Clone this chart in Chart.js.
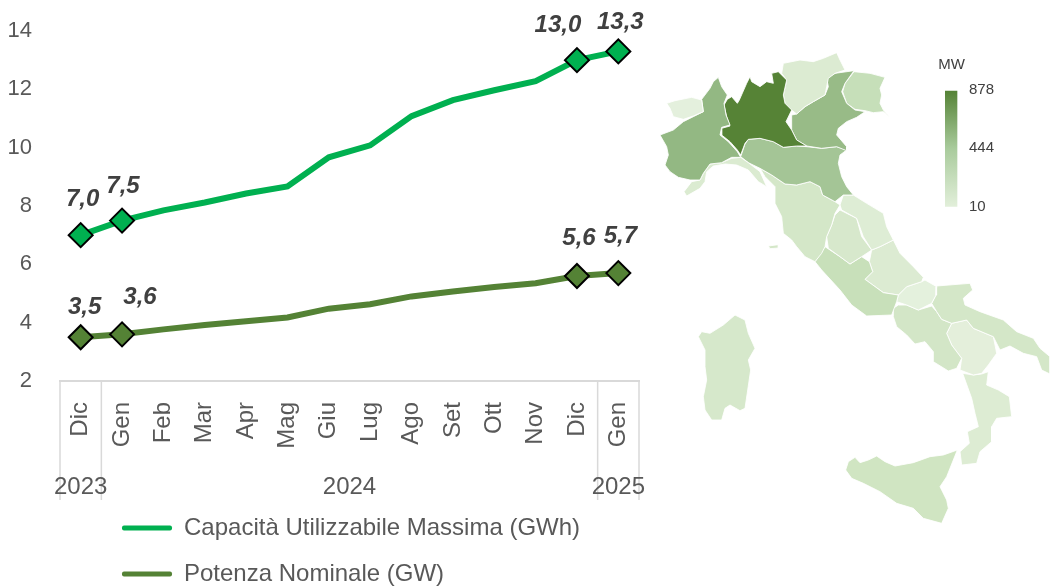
<!DOCTYPE html>
<html><head><meta charset="utf-8">
<style>
html,body{margin:0;padding:0;background:#fff;width:1050px;height:587px;overflow:hidden}
#lineWrap{position:absolute;left:0;top:0;width:670px;height:587px}
#mapWrap{position:absolute;left:650px;top:40px;width:400px;height:547px}
</style>
<script src="https://cdn.jsdelivr.net/npm/chart.js@4/dist/chart.umd.min.js"></script>
</head><body>
<div id="lineWrap"><canvas id="line" width="670" height="587"></canvas></div>
<div id="mapWrap"><canvas id="map" width="400" height="547"></canvas></div>
<script>
// ---------- line chart data ----------
const months = ['Dic','Gen','Feb','Mar','Apr','Mag','Giu','Lug','Ago','Set','Ott','Nov','Dic','Gen'];
const yearLabels = ['2023','2024','2025'];
const yearFirstIndex = [0,1,13];
const yearLastIndex = [0,12,13];
const capacita = [7.0,7.5,7.85,8.12,8.43,8.67,9.67,10.08,11.08,11.63,11.97,12.28,13.0,13.3];
const potenza = [3.5,3.6,3.77,3.92,4.05,4.18,4.48,4.63,4.9,5.07,5.22,5.35,5.6,5.7];
const markedIndex = [0,1,12,13];
const capacitaName = 'Capacità Utilizzabile Massima (GWh)';
const potenzaName = 'Potenza Nominale (GW)';

// ---------- map outlines, in map units ----------
const valleDAosta = [[50,190],[75,182],[125,172],[155,180],[160,215],[130,228],[100,238],[70,230],[60,205]];
const piemonte = [[205,112],[215,140],[232,165],[222,190],[228,225],[240,255],[215,262],[210,285],[235,305],[262,335],[272,352],[245,352],[215,368],[180,372],[160,400],[150,420],[120,420],[85,412],[60,395],[45,375],[55,345],[50,320],[30,285],[70,270],[100,245],[130,230],[160,215],[155,178],[180,145],[190,125]];
const lombardia = [[300,110],[290,130],[268,180],[262,190],[245,170],[232,178],[222,195],[230,230],[240,258],[215,265],[215,285],[240,305],[262,330],[272,345],[285,310],[295,298],[330,295],[370,305],[400,322],[440,318],[470,318],[440,300],[425,270],[408,245],[425,210],[405,190],[400,165],[410,120],[385,95],[365,100],[370,130],[350,125],[330,140],[305,125]];
const trentino = [[400,70],[450,60],[490,65],[520,55],[560,38],[570,60],[585,90],[555,100],[535,115],[530,140],[525,165],[490,185],[465,200],[440,222],[425,210],[405,190],[400,165],[410,120],[395,100]];
const veneto = [[555,100],[612,92],[585,130],[575,155],[590,190],[615,210],[645,215],[620,232],[590,245],[565,265],[560,285],[590,320],[590,332],[560,320],[515,325],[470,318],[440,300],[425,270],[425,225],[440,222],[465,200],[490,185],[525,165],[535,140],[530,115]];
const friuli = [[612,95],[660,100],[705,112],[690,145],[695,165],[690,190],[700,210],[720,232],[700,215],[670,218],[645,212],[615,208],[590,190],[578,155],[585,130]];
const emilia = [[295,298],[285,312],[272,350],[295,368],[330,385],[365,405],[405,432],[440,435],[480,425],[510,440],[518,465],[555,485],[580,465],[610,465],[590,440],[575,410],[565,370],[570,345],[590,330],[560,320],[515,325],[470,320],[440,318],[400,322],[370,305],[330,295]];
const liguria = [[245,355],[272,352],[295,368],[330,395],[350,440],[325,425],[295,390],[260,375],[225,372],[190,378],[170,395],[165,425],[150,445],[110,468],[102,455],[125,425],[150,420],[160,400],[180,372],[215,368]];
const toscana = [[330,385],[365,405],[405,432],[440,435],[480,425],[510,440],[518,465],[555,485],[570,495],[555,520],[545,555],[530,590],[525,620],[515,640],[495,665],[465,650],[440,620],[425,600],[400,580],[395,530],[375,490],[375,440],[345,410]];
const elba = [[355,618],[385,614],[385,624],[360,626]];
const marche = [[580,465],[610,465],[650,490],[700,520],[710,560],[730,600],[690,620],[665,630],[640,590],[620,535],[575,510],[570,495]];
const umbria = [[570,510],[620,535],[635,590],[665,630],[635,650],[600,672],[570,650],[535,625],[530,590],[545,555],[555,525]];
const lazio = [[525,620],[570,650],[600,672],[635,650],[658,665],[668,695],[645,718],[700,758],[745,765],[740,785],[725,825],[650,828],[605,795],[570,750],[515,690],[495,665]];
const abruzzo = [[665,630],[690,620],[730,600],[750,640],[790,680],[820,712],[815,725],[770,740],[745,765],[700,758],[645,718],[668,695],[658,665]];
const molise = [[770,740],[815,725],[825,720],[860,740],[858,765],[845,790],[805,810],[770,795],[740,785],[745,765]];
const puglia = [[860,738],[960,730],[968,750],[940,775],[945,795],[990,815],[1060,840],[1100,875],[1150,895],[1170,925],[1200,950],[1200,1002],[1175,990],[1160,950],[1120,940],[1080,918],[1050,930],[1030,890],[970,865],[950,840],[905,850],[875,838],[860,815],[845,790],[858,765]];
const campania = [[730,805],[745,795],[770,795],[805,810],[845,798],[860,815],[875,838],[905,850],[890,880],[905,915],[935,955],[920,985],[895,993],[850,965],[850,935],[825,905],[795,912],[770,885],[740,860],[730,830]];
const basilicata = [[905,850],[950,840],[970,865],[1030,890],[1040,940],[1015,975],[995,1000],[970,1005],[930,990],[935,955],[905,915],[890,880]];
const calabria = [[938,1000],[970,1005],[995,1002],[1015,995],[1010,1035],[1045,1050],[1078,1070],[1085,1130],[1040,1135],[1025,1160],[1025,1205],[990,1235],[980,1270],[935,1275],[930,1235],[958,1210],[952,1175],[985,1160],[975,1120],[965,1075]];
const sicilia = [[922,1230],[890,1310],[870,1340],[890,1380],[895,1405],[875,1450],[820,1435],[790,1405],[740,1390],[690,1355],[640,1330],[605,1315],[587,1290],[595,1265],[615,1252],[630,1268],[655,1260],[680,1248],[705,1265],[735,1278],[790,1268],[840,1250],[880,1245]];
const sardegna = [[255,825],[285,840],[295,880],[315,925],[295,960],[302,990],[285,1105],[270,1112],[240,1095],[225,1105],[215,1140],[185,1140],[165,1110],[160,1070],[170,1020],[165,980],[165,930],[145,890],[155,875],[180,880],[220,855]];
const regions = [valleDAosta,piemonte,liguria,lombardia,trentino,veneto,friuli,emilia,toscana,elba,marche,umbria,lazio,abruzzo,molise,puglia,campania,basilicata,calabria,sicilia,sardegna];
const regionNames = ["Valle d'Aosta",'Piemonte','Liguria','Lombardia','Trentino-Alto Adige','Veneto','Friuli-Venezia Giulia','Emilia-Romagna','Toscana','Elba','Marche','Umbria','Lazio','Abruzzo','Molise','Puglia','Campania','Basilicata','Calabria','Sicilia','Sardegna'];
const regionColors = ['#E4F0DD','#93B883','#DBEBD1','#568336','#DCEBD2','#98BB87','#C6DFB9','#A4C596','#D4E7C8','#D4E7C8','#DEEDD5','#D7E8CC','#C8E0BA','#DCEBD2','#E4F1DD','#D4E7C8','#D3E6C7','#E4EFDB','#DDECD3','#D0E5C2','#D6E8CB'];
const colorBar = [[885,152],[922,152],[922,500],[885,500]];
const colorBarLabels = ['878','444','10'];
const colorBarLabelY = [150,325,502];
const colorBarStops = ['#548235','#A9CB9C','#E2EFDA'];

// ---------- shared styles ----------
const FONT = '"Liberation Sans", Arial, sans-serif';
const GREY = '#595959';
const GREEN_BRIGHT = '#00B050';
const GREEN_DARK = '#548235';
const labelOffsets = [
  {0:[2,-36],1:[1,-34],12:[-19,-35],13:[2,-29]},
  {0:[4,-30],1:[18,-37],12:[2,-38],13:[2,-37]}
];

const lineExtras = {
  id:'lineExtras',
  afterLayout(chart){
    chart.legend.left = 100;
    chart.legend.top = 494;
  },
  afterDraw(chart){
    const {ctx} = chart;
    const x = chart.scales.x;
    const axisY = chart.scales.y.bottom;
    ctx.save();
    ctx.strokeStyle = '#D9D9D9';
    ctx.lineWidth = 1.5;
    [-0.5,0.5,12.5,13.5].forEach(v=>{
      const px = x.getPixelForValue(v);
      ctx.beginPath();ctx.moveTo(px,axisY);ctx.lineTo(px,500);ctx.stroke();
    });
    ctx.fillStyle = GREY;
    ctx.font = '24px '+FONT;
    ctx.textAlign = 'center';
    ctx.textBaseline = 'middle';
    yearLabels.forEach((t,i)=>{
      const px = (x.getPixelForValue(yearFirstIndex[i])+x.getPixelForValue(yearLastIndex[i]))/2;
      ctx.fillText(t,px,487);
    });
    ctx.fillStyle = '#404040';
    ctx.font = 'italic bold 24px '+FONT;
    chart.data.datasets.forEach((ds,d)=>{
      const meta = chart.getDatasetMeta(d);
      markedIndex.forEach(i=>{
        const p = meta.data[i];
        const off = labelOffsets[d][i];
        ctx.fillText(ds.data[i].toFixed(1).replace('.',','),p.x+off[0],p.y+off[1]);
      });
    });
    ctx.restore();
  }
};

const pointSize = c => markedIndex.includes(c.dataIndex) ? 12 : 0;
new Chart(document.getElementById('line'),{
  type:'line',
  data:{labels:months,datasets:[
    {label:capacitaName,data:capacita,borderColor:GREEN_BRIGHT,backgroundColor:GREEN_BRIGHT,borderWidth:6,tension:0,clip:false,
     pointStyle:'rectRot',pointRadius:pointSize,pointBackgroundColor:GREEN_BRIGHT,pointBorderColor:'#000',pointBorderWidth:2},
    {label:potenzaName,data:potenza,borderColor:GREEN_DARK,backgroundColor:GREEN_DARK,borderWidth:6,tension:0,clip:false,
     pointStyle:'rectRot',pointRadius:pointSize,pointBackgroundColor:GREEN_DARK,pointBorderColor:'#000',pointBorderWidth:2}
  ]},
  options:{
    responsive:false,animation:false,events:[],
    layout:{padding:{top:31,right:31,left:0,bottom:0}},
    plugins:{
      tooltip:{enabled:false},
      legend:{display:true,position:'bottom',align:'start',
        labels:{boxWidth:50,boxHeight:5,padding:22,color:GREY,font:{family:FONT,size:24},useBorderRadius:true,borderRadius:2,
          generateLabels(chart){
            return Chart.defaults.plugins.legend.labels.generateLabels(chart).map(it=>Object.assign(it,{lineWidth:0}));
          }}
      }
    },
    scales:{
      x:{type:'category',offset:true,
        grid:{display:false,drawTicks:false},
        border:{display:true,color:'#D9D9D9',width:2},
        ticks:{autoSkip:false,minRotation:90,maxRotation:90,padding:21,color:GREY,font:{family:FONT,size:24}},
        afterFit(s){s.height=104;s.paddingLeft=0;s.paddingRight=0;}
      },
      y:{min:2,max:14,
        grid:{display:false,drawTicks:false},
        border:{display:false},
        ticks:{stepSize:2,padding:28,color:GREY,font:{family:FONT,size:22}},
        afterFit(s){s.width=60;s.paddingTop=0;s.paddingBottom=0;}
      }
    }
  },
  plugins:[lineExtras]
});

// ---------- map ----------
const toPoints = poly => poly.concat([poly[0]]).map(p=>({x:p[0],y:p[1]}));
const barGradient = ctx => {
  const c = ctx.chart, y = c.scales.y;
  const top = y ? y.getPixelForValue(colorBar[0][1]) : NaN;
  const bottom = y ? y.getPixelForValue(colorBar[2][1]) : NaN;
  if(!Number.isFinite(top) || !Number.isFinite(bottom)) return colorBarStops[1];
  const g = c.ctx.createLinearGradient(0,top,0,bottom);
  colorBarStops.forEach((col,i)=>g.addColorStop(i/(colorBarStops.length-1),col));
  return g;
};
const mapExtras = {
  id:'mapExtras',
  afterDraw(chart){
    const {ctx} = chart, x = chart.scales.x, y = chart.scales.y;
    ctx.save();
    ctx.fillStyle = '#404040';
    ctx.font = '15px '+FONT;
    ctx.textBaseline = 'middle';
    ctx.textAlign = 'left';
    ctx.fillText('MW',x.getPixelForValue(865),y.getPixelForValue(74));
    colorBarLabels.forEach((t,i)=>{
      ctx.fillText(t,x.getPixelForValue(957),y.getPixelForValue(colorBarLabelY[i]));
    });
    ctx.restore();
  }
};
const mapSets = regions.map((poly,i)=>({
  label:regionNames[i],data:toPoints(poly),showLine:true,fill:'shape',tension:0,
  backgroundColor:regionColors[i],borderColor:'rgba(255,255,255,0.85)',borderWidth:1,pointRadius:0
}));
mapSets.push({label:'MW',data:toPoints(colorBar),showLine:true,fill:'shape',tension:0,
  backgroundColor:barGradient,borderColor:'rgba(255,255,255,0)',borderWidth:0,pointRadius:0});
new Chart(document.getElementById('map'),{
  type:'scatter',
  data:{datasets:mapSets},
  options:{
    responsive:false,animation:false,events:[],
    layout:{padding:0},
    plugins:{legend:{display:false},tooltip:{enabled:false}},
    scales:{
      x:{type:'linear',display:false,min:0,max:1200},
      y:{type:'linear',display:false,min:0,max:1641,reverse:true}
    }
  },
  plugins:[mapExtras]
});
</script>
</body></html>
